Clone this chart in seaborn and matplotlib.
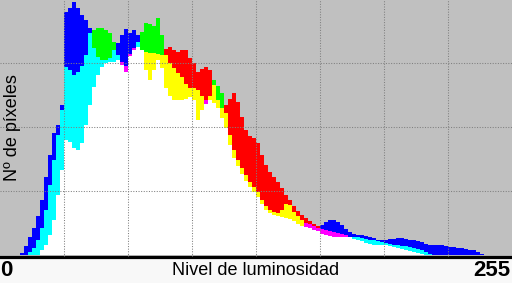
import numpy as np
import matplotlib
matplotlib.use("Agg")
import matplotlib.pyplot as plt
import seaborn as sns

# Luminosity levels (every 2 levels) and per-channel pixel counts (plot-height units)
levels = np.arange(0, 256, 2)

red = [0,0,0,0,0,0,0,0,0,0,5,10,20,35,60,85,
       115,113,107,105,112,130,150,168,180,188,192,193,193,195,193,189,
       201,207,208,205,203,202,202,201,200,206,208,205,203,205,205,197,
       192,183,186,188,185,170,155,147,150,156,162,153,138,125,119,117,
       112,100,90,83,78,73,67,60,55,49,44,40,37,34,31,29,
       26,25,24,23,22,21,20,18,16,15,14,12,11,10,10,10,
       10,9,8,7,6,5,4,3,2,1,0,0,0,0,0,0,
       0,0,0,0,0,0,0,0,0,0,0,0,0,0,0,0]

green = [0,0,0,0,0,0,0,3,7,15,27,45,70,95,120,145,
         188,185,180,183,189,200,222,225,227,227,225,222,213,200,190,183,
         199,205,213,223,232,231,229,237,220,200,192,187,182,178,171,167,
         167,165,159,151,159,175,169,162,142,120,105,95,87,80,73,68,
         63,55,49,45,43,42,45,51,50,43,39,35,28,27,25,24,
         21,20,19,18,18,18,18,18,18,18,17,16,15,15,14,13,
         12,11,10,10,9,9,8,7,6,5,3,1,0,0,0,0,
         0,0,0,0,0,0,0,0,0,0,0,0,0,0,0,0]

blue = [0,0,0,0,0,2,9,18,27,39,55,78,100,122,130,150,
        243,247,253,247,240,235,227,207,198,195,195,197,205,212,220,226,
        222,225,220,205,185,175,185,195,187,167,159,155,155,155,156,158,
        155,135,145,155,155,152,147,137,127,110,97,89,81,74,68,63,
        58,51,45,42,40,39,38,37,36,34,31,29,32,31,29,27,
        30,33,35,35,33,30,26,23,21,20,20,19,18,17,15,15,
        15,16,16,17,17,16,15,15,14,13,11,10,10,10,10,9,
        8,8,7,7,6,5,5,3,1,0,0,0,0,0,0,0]

x_label = "Nivel de luminosidad"
y_label = "Nº de píxeles"
x_min_label = "0"
x_max_label = "255"

sns.set_theme(style="white")
plt.rcParams['font.family'] = ['Liberation Sans', 'DejaVu Sans']

W, H = 512, 283
fig = plt.figure(figsize=(W / 100, H / 100), dpi=100, facecolor='#f8f8f8')
ax_h = 256.5 / H
ax = fig.add_axes([0, 1 - ax_h, 1, ax_h])
ax.set_facecolor('#c0c0c0')

ch = np.vstack([red, green, blue]).astype(float)
order = np.argsort(-ch, axis=0, kind='stable')
srt = np.take_along_axis(ch, order, axis=0)
maxv, midv, minv = srt[0], srt[1], srt[2]
eye = np.eye(3)
top_cols = [tuple(eye[order[0, i]]) for i in range(len(levels))]
mid_cols = [tuple(np.clip(eye[order[0, i]] + eye[order[1, i]], 0, 1)) for i in range(len(levels))]

bw = 2.06
ax.bar(levels, minv, width=bw, align='edge', color='white', linewidth=0, antialiased=False)
ax.bar(levels, midv - minv, bottom=minv, width=bw, align='edge', color=mid_cols,
       linewidth=0, antialiased=False)
ax.bar(levels, maxv - midv, bottom=midv, width=bw, align='edge', color=top_cols,
       linewidth=0, antialiased=False)

ax.set_xlim(0, 256)
ax.set_ylim(-1.5, 255)
ax.set_xticks(np.arange(32, 256, 32))
ax.set_yticks([64, 128, 192])
ax.grid(True, color='#808080', linestyle=(0, (1, 1.5)), linewidth=0.75)
ax.set_axisbelow(False)
ax.tick_params(length=0, labelbottom=False, labelleft=False)
sns.despine(ax=ax, left=True, top=True, right=True)
ax.spines['bottom'].set_color('black')
ax.spines['bottom'].set_linewidth(2.3)

ax.text(13 / W, 1 - 128 / 256.5, y_label, transform=ax.transAxes, rotation=90,
        ha='center', va='center', fontsize=13, color='black')

ty = 1 - 270.5 / H
fig.text(0.5 / W, ty, x_min_label, ha='left', va='center', fontsize=16,
         fontweight='bold', color='black')
fig.text(510 / W, ty, x_max_label, ha='right', va='center', fontsize=16,
         fontweight='bold', color='black')
fig.text(255.5 / W, ty, x_label, ha='center', va='center', fontsize=13, color='black')

fig.savefig('out.png', dpi=100, facecolor=fig.get_facecolor())
